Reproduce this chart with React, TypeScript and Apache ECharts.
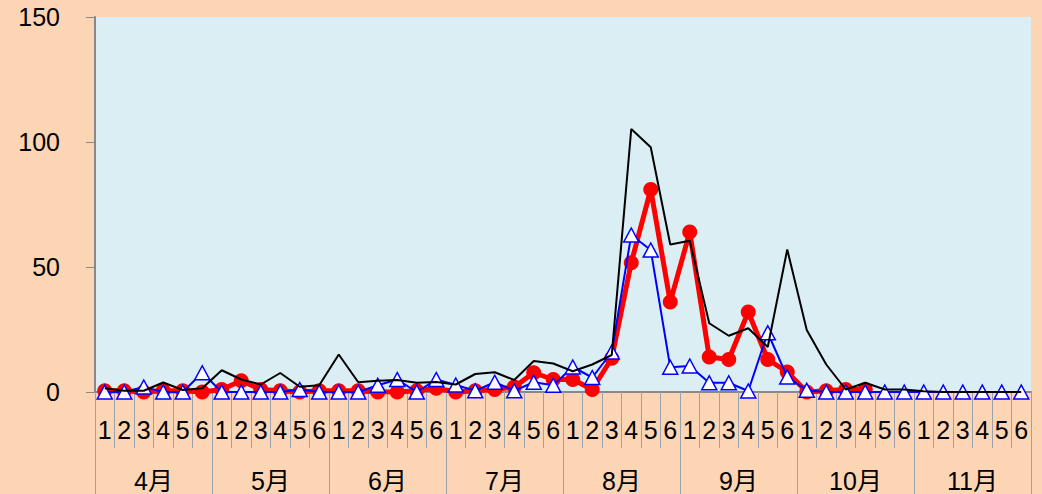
import React, { useEffect, useRef } from "react";
import * as echarts from "echarts";

const months = ["4月", "5月", "6月", "7月", "8月", "9月", "10月", "11月"];
const periods = ["1", "2", "3", "4", "5", "6"];
const yTicks = { min: 0, max: 150, interval: 50 };

// black thin line (no markers)
const blackValues = [
  1.5, 0.5, 0.5, 3.8, 0.8, 1.5,
  8.7, 5, 3, 7.6, 2.1, 2.7,
  15, 3.9, 4.5, 4.8, 3.7, 4,
  3, 7.2, 7.9, 4.8, 12.4, 11.4,
  8.3, 11, 14.8, 105.2, 97.9, 59,
  60.5, 27.5, 22.5, 25.5, 18, 57,
  24.8, 11, 1, 3.7, 1, 1,
  0.3, 0, 0, 0, 0, 0,
];

// red thick line with circle markers
const redValues: (number | null)[] = [
  0.5, 0.5, 0, 0.5, 0.5, 0,
  1, 4.5, 1, 0.5, 0, 0.5,
  0.5, 0.5, 0, 0, 0.5, 1.5,
  0, 0.5, 1, 2, 7.7, 5,
  5, 1, 13.5, 51.7, 81, 36,
  64, 14, 13, 32, 13, 8,
  0, 0.5, 1, 1, null, null,
  null, null, null, null, null, null,
];

// blue line with triangle markers
const blueValues = [
  0, 0, 2, 0, 0, 7.7,
  0, 0, 0, 0, 1, 0,
  0, 0, 2.7, 5, 0, 5,
  2.8, 0.5, 3.9, 0.5, 3.9, 2.7,
  10, 5.8, 16, 62.8, 56.8, 9.9,
  10.4, 3.7, 3.7, 0.4, 23.7, 6,
  0.7, 0, 0, 0, 0, 0,
  0, 0, 0, 0, 0, 0,
];

const categories: string[] = [];
months.forEach(() => periods.forEach((p) => categories.push(p)));

const FONT = "'Liberation Sans', 'Noto Sans CJK JP', sans-serif";

export default function App() {
  const ref = useRef<HTMLDivElement>(null);
  useEffect(() => {
    if (!ref.current) return;
    const chart = echarts.init(ref.current, undefined, { renderer: "svg" });
    chart.setOption({
      animation: false,
      backgroundColor: "#FCD5B5",
      grid: {
        left: 95,
        right: 11,
        top: 17,
        bottom: 102,
        show: true,
        backgroundColor: "#DAEEF3",
        borderWidth: 0,
        outerBoundsMode: "none",
        containLabel: false,
      },
      xAxis: [
        {
          type: "category",
          data: categories,
          boundaryGap: true,
          axisLine: { show: true, lineStyle: { color: "#888888", width: 2 } },
          axisTick: {
            show: true,
            interval: 0,
            length: 56,
            lineStyle: { color: "#9aa3ad", width: 1 },
          },
          axisLabel: {
            interval: 0,
            margin: 25,
            fontSize: 25,
            lineHeight: 25,
            color: "#000",
            fontFamily: FONT,
          },
          splitLine: { show: false },
        },
        {
          type: "category",
          data: months,
          position: "bottom",
          boundaryGap: true,
          axisLine: { show: false },
          axisTick: {
            show: true,
            interval: 0,
            length: 110,
            lineStyle: { color: "#9aa3ad", width: 1 },
          },
          axisLabel: {
            interval: 0,
            margin: 77,
            fontSize: 25,
            lineHeight: 24,
            color: "#000",
            fontFamily: FONT,
          },
          splitLine: { show: false },
        },
      ],
      yAxis: {
        type: "value",
        min: yTicks.min,
        max: yTicks.max,
        interval: yTicks.interval,
        axisLine: { show: true, lineStyle: { color: "#888888", width: 2 } },
        axisTick: { show: true, length: 9, lineStyle: { color: "#888888", width: 1 } },
        axisLabel: {
          margin: 35,
          fontSize: 25,
          color: "#000",
          fontFamily: FONT,
        },
        splitLine: { show: false },
      },
      series: [
        {
          type: "line",
          data: redValues,
          xAxisIndex: 0,
          symbol: "circle",
          symbolSize: 15,
          itemStyle: { color: "#FF0000" },
          lineStyle: { color: "#FF0000", width: 5 },
          z: 2,
        },
        {
          type: "line",
          data: blueValues,
          xAxisIndex: 0,
          symbol: "triangle",
          symbolSize: [15, 14],
          itemStyle: { color: "#FFFFFF", borderColor: "#0000FF", borderWidth: 1.5 },
          lineStyle: { color: "#0000FF", width: 2 },
          z: 3,
        },
        {
          type: "line",
          data: blackValues,
          xAxisIndex: 0,
          symbol: "none",
          lineStyle: { color: "#000000", width: 2 },
          z: 4,
        },
      ],
    });
    return () => chart.dispose();
  }, []);
  return (
    <div
      ref={ref}
      style={{ position: "fixed", left: 0, top: 0, width: 1042, height: 494 }}
    />
  );
}
